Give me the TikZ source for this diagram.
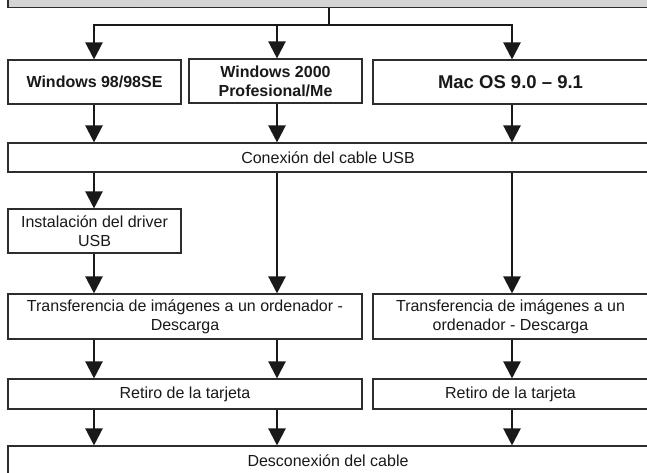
\documentclass[tikz,border=0pt]{standalone}
\usepackage{fontspec}
\setmainfont{Liberation Sans}
\usetikzlibrary{arrows.meta}
\definecolor{boxline}{RGB}{45,45,45}
\definecolor{topgray}{RGB}{212,212,212}
\definecolor{inkc}{RGB}{25,25,25}
\begin{document}
\begin{tikzpicture}[x=1pt,y=-1pt,
  box/.style={draw=boxline, line width=1.1pt, fill=white, inner sep=0pt, align=center,
              text=inkc, font=\fontsize{16}{19}\selectfont},
  osbox/.style={box, font=\fontsize{16}{19}\selectfont\bfseries},
  flow/.style={line width=2.3pt, draw=inkc, line join=miter, -{Triangle[width=17pt,length=17pt]}},
  plainline/.style={line width=2.3pt, draw=inkc}]
\useasboundingbox (0,0) rectangle (647,473);
\clip (0,0) rectangle (647,473);

% column coordinates
\coordinate (cA) at (94,0);
\coordinate (cB) at (277,0);
\coordinate (cC) at (512,0);
\coordinate (j) at (329,25);

% top grey box (cut off)
\node[box, fill=topgray, minimum width=652pt, minimum height=40pt] (top) at (334,-12.5) {};
\node[anchor=base, text=inkc, font=\fontsize{16}{19}\selectfont] (cut) at (143,-1) {,};

% OS boxes
\node[osbox, minimum width=173pt, minimum height=44pt] (win98) at (94.5,82) {Windows 98/98SE};
\node[osbox, minimum width=173pt, minimum height=44pt] (win2k) at (275.5,81) {Windows 2000\\Profesional/Me};
\node[box, draw=none, fill=white, minimum width=275pt, minimum height=44pt] (mac) at (510.5,82) {};
\draw[boxline, line width=1.1pt] (373,60) rectangle (648,104);
\node[text=inkc, font=\fontsize{18.5}{22}\selectfont\bfseries] (mact) at (510.5,82) {Mac OS 9.0 -- 9.1};

% main flow
\node[box, minimum width=640pt, minimum height=29pt] (conex) at (328,157.5) {Conexión del cable USB};
\node[box, minimum width=173pt, minimum height=44pt] (inst) at (94.5,231) {Instalación del driver\\USB};
\node[box, minimum width=354pt, minimum height=45pt] (transL) at (185,316.5) {Transferencia de imágenes a un ordenador -\\Descarga};
\node[box, minimum width=275pt, minimum height=45pt] (transR) at (510.5,316.5) {Transferencia de imágenes a un\\ordenador - Descarga};
\node[box, minimum width=354pt, minimum height=30pt] (retL) at (185,394) {Retiro de la tarjeta};
\node[box, minimum width=275pt, minimum height=30pt] (retR) at (510.5,394) {Retiro de la tarjeta};
\node[box, minimum width=640pt, minimum height=30pt] (descon) at (328,461) {Desconexión del cable};

% top distribution
\draw[plainline] (j |- top.south) -- (j);
\draw[flow] (j) -| (cA |- win98.north);
\draw[flow] (j) -| (cB |- win2k.north);
\draw[flow] (j) -| (cC |- mac.north);

% OS -> Conexion
\draw[flow] (cA |- win98.south) -- (cA |- conex.north);
\draw[flow] (cB |- win2k.south) -- (cB |- conex.north);
\draw[flow] (cC |- mac.south) -- (cC |- conex.north);

% Conexion -> next
\draw[flow] (cA |- conex.south) -- (cA |- inst.north);
\draw[flow] (cA |- inst.south) -- (cA |- transL.north);
\draw[flow] (cB |- conex.south) -- (cB |- transL.north);
\draw[flow] (cC |- conex.south) -- (cC |- transR.north);

% Transferencia -> Retiro
\draw[flow] (cA |- transL.south) -- (cA |- retL.north);
\draw[flow] (cB |- transL.south) -- (cB |- retL.north);
\draw[flow] (cC |- transR.south) -- (cC |- retR.north);

% Retiro -> Desconexion
\draw[flow] (cA |- retL.south) -- (cA |- descon.north);
\draw[flow] (cB |- retL.south) -- (cB |- descon.north);
\draw[flow] (cC |- retR.south) -- (cC |- descon.north);
\end{tikzpicture}
\end{document}
